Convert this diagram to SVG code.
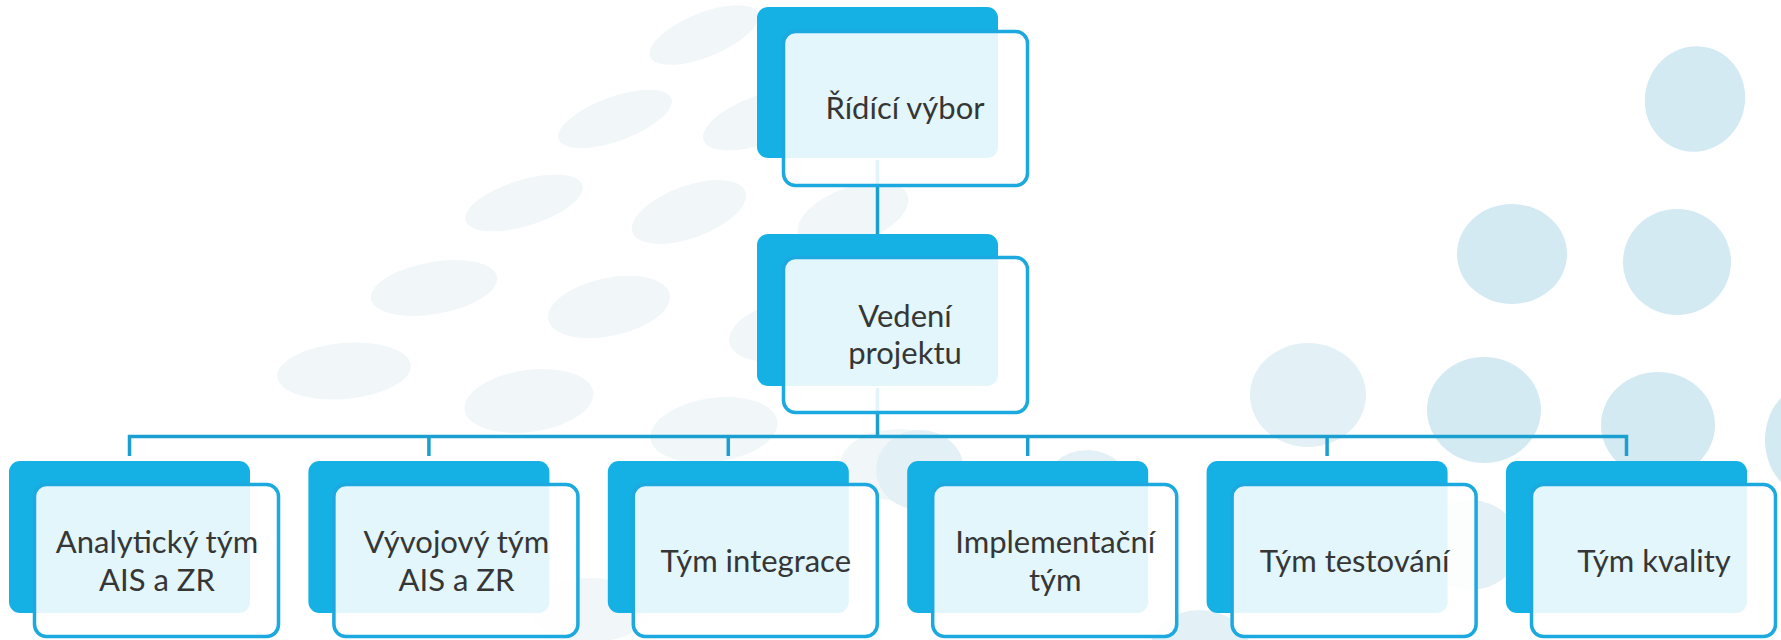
<svg xmlns="http://www.w3.org/2000/svg" width="1781" height="640" viewBox="0 0 1781 640">
<style>
.bg{fill:#fff}
.fa{fill:#F1F6F9}
.fb{fill:#D3EAF3}
.fc{fill:#E3F1F6}
.blue{fill:#15B0E4}
.out{fill:#fff;fill-opacity:0.88;stroke:#1CA9DF;stroke-width:3.5}
.t{font-family:Lato,"Liberation Sans",sans-serif;font-size:31px;fill:#363636;text-anchor:middle}
.conn{stroke:#1A9FD0;stroke-width:3.5;fill:none}
</style>
<rect class="bg" x="0" y="0" width="1781" height="640"/>
<g id="background">
<ellipse class="fa" cx="704" cy="35" rx="58" ry="22" transform="rotate(-22 704 35)"/>
<ellipse class="fa" cx="615" cy="119" rx="60" ry="22" transform="rotate(-20 615 119)"/>
<ellipse class="fa" cx="760" cy="120" rx="60" ry="24" transform="rotate(-20 760 120)"/>
<ellipse class="fa" cx="524" cy="203" rx="61" ry="23" transform="rotate(-17 524 203)"/>
<ellipse class="fa" cx="689" cy="212" rx="60" ry="26" transform="rotate(-20 689 212)"/>
<ellipse class="fa" cx="853" cy="215" rx="58" ry="28" transform="rotate(-20 853 215)"/>
<ellipse class="fa" cx="434" cy="288" rx="64" ry="26" transform="rotate(-10 434 288)"/>
<ellipse class="fa" cx="609" cy="307" rx="62" ry="29" transform="rotate(-12 609 307)"/>
<ellipse class="fa" cx="790" cy="330" rx="62" ry="30" transform="rotate(-12 790 330)"/>
<ellipse class="fa" cx="344" cy="371" rx="67" ry="28" transform="rotate(-5 344 371)"/>
<ellipse class="fa" cx="529" cy="401" rx="65" ry="31" transform="rotate(-8 529 401)"/>
<ellipse class="fa" cx="714" cy="430" rx="64" ry="32" transform="rotate(-8 714 430)"/>
<ellipse class="fa" cx="900" cy="465" rx="60" ry="36"/>
<ellipse class="fa" cx="590" cy="610" rx="60" ry="32"/>
<ellipse class="fc" cx="920" cy="470" rx="44" ry="40"/>
<ellipse class="fc" cx="1087" cy="490" rx="44" ry="40"/>
<ellipse class="fb" cx="1695" cy="99" rx="50" ry="53" transform="rotate(15 1695 99)"/>
<ellipse class="fb" cx="1512" cy="254" rx="55" ry="50"/>
<ellipse class="fb" cx="1677" cy="262" rx="54" ry="53"/>
<ellipse class="fc" cx="1308" cy="395" rx="58" ry="52"/>
<ellipse class="fb" cx="1484" cy="410" rx="57" ry="53"/>
<ellipse class="fb" cx="1658" cy="425" rx="57" ry="53"/>
<ellipse class="fb" cx="1810" cy="440" rx="45" ry="55"/>
<ellipse class="fc" cx="1470" cy="545" rx="50" ry="45"/>
<ellipse class="fc" cx="1200" cy="650" rx="50" ry="40"/>
</g>
<g id="connectors">
<line class="conn" x1="877.5" y1="160" x2="877.5" y2="234"/>
<line class="conn" x1="877.5" y1="388" x2="877.5" y2="436.5"/>
<polyline class="conn" points="129.5,456 129.5,436.5 1626.5,436.5 1626.5,456"/>
<line class="conn" x1="428.9" y1="436.5" x2="428.9" y2="456"/>
<line class="conn" x1="728.3" y1="436.5" x2="728.3" y2="456"/>
<line class="conn" x1="1027.7" y1="436.5" x2="1027.7" y2="456"/>
<line class="conn" x1="1327.1" y1="436.5" x2="1327.1" y2="456"/>
</g>
<g id="node-ridici-vybor">
<rect class="blue" x="757" y="7" width="241" height="151" rx="11"/>
<rect class="out" x="783.5" y="31.5" width="244" height="154" rx="12"/>
<text class="t" x="905" y="119">Řídící výbor</text>
</g>
<g id="node-vedeni-projektu">
<rect class="blue" x="757" y="234" width="241" height="152" rx="11"/>
<rect class="out" x="783.5" y="257.5" width="244" height="155" rx="12"/>
<text class="t" x="905" y="327">Vedení</text>
<text class="t" x="905" y="364">projektu</text>
</g>
<g id="node-analyticky-tym">
<rect class="blue" x="9" y="461" width="241" height="152" rx="11"/>
<rect class="out" x="34.5" y="484.5" width="244" height="152" rx="12"/>
<text class="t" x="157" y="553">Analytický tým</text>
<text class="t" x="157" y="591">AIS a ZR</text>
</g>
<g id="node-vyvojovy-tym">
<rect class="blue" x="308.4" y="461" width="241" height="152" rx="11"/>
<rect class="out" x="333.9" y="484.5" width="244" height="152" rx="12"/>
<text class="t" x="456.4" y="553">Vývojový tým</text>
<text class="t" x="456.4" y="591">AIS a ZR</text>
</g>
<g id="node-tym-integrace">
<rect class="blue" x="607.8" y="461" width="241" height="152" rx="11"/>
<rect class="out" x="633.3" y="484.5" width="244" height="152" rx="12"/>
<text class="t" x="755.8" y="572">Tým integrace</text>
</g>
<g id="node-implementacni-tym">
<rect class="blue" x="907.2" y="461" width="241" height="152" rx="11"/>
<rect class="out" x="932.7" y="484.5" width="244" height="152" rx="12"/>
<text class="t" x="1055.2" y="553">Implementační</text>
<text class="t" x="1055.2" y="591">tým</text>
</g>
<g id="node-tym-testovani">
<rect class="blue" x="1206.6" y="461" width="241" height="152" rx="11"/>
<rect class="out" x="1232.1" y="484.5" width="244" height="152" rx="12"/>
<text class="t" x="1354.6" y="572">Tým testování</text>
</g>
<g id="node-tym-kvality">
<rect class="blue" x="1506" y="461" width="241" height="152" rx="11"/>
<rect class="out" x="1531.5" y="484.5" width="244" height="152" rx="12"/>
<text class="t" x="1654" y="572">Tým kvality</text>
</g>
</svg>
